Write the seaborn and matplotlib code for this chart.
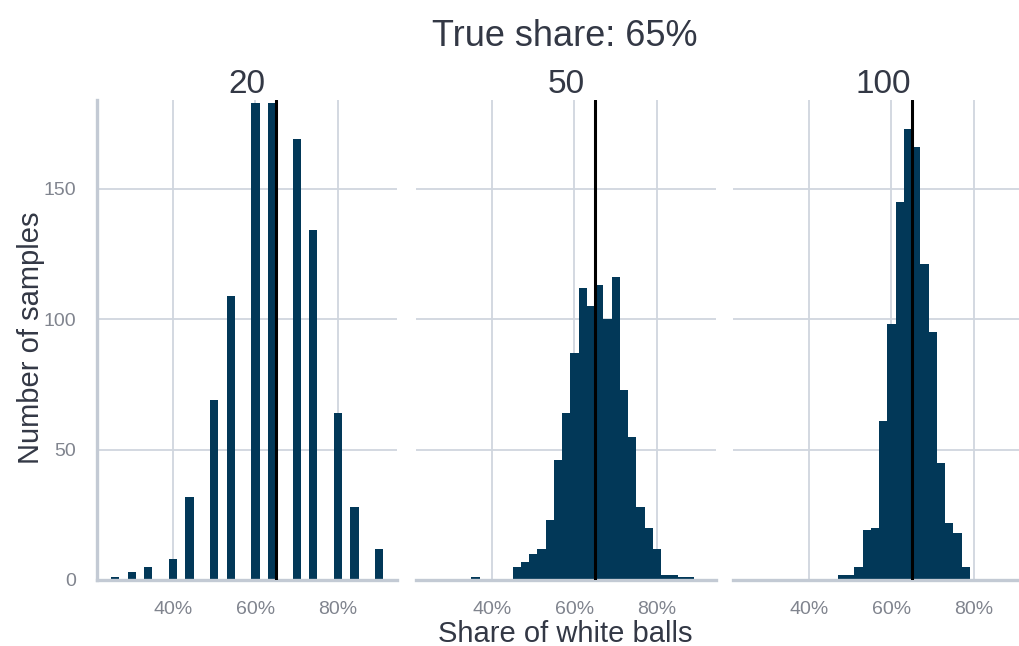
import numpy as np
import pandas as pd
import seaborn as sns
import matplotlib.pyplot as plt
from matplotlib.ticker import PercentFormatter

# Bar positions (share of white balls) and number of samples
share_20 = [0.26, 0.30, 0.34, 0.40, 0.44, 0.50, 0.54, 0.60, 0.64, 0.70, 0.74, 0.80, 0.84, 0.90]
count_20 = [1, 3, 5, 8, 32, 69, 109, 183, 183, 169, 134, 64, 28, 12]

share_50 = [0.36, 0.46, 0.48, 0.50, 0.52, 0.54, 0.56, 0.58, 0.60, 0.62, 0.64, 0.66,
            0.68, 0.70, 0.72, 0.74, 0.76, 0.78, 0.80, 0.82, 0.84, 0.86, 0.88]
count_50 = [1, 5, 7, 10, 12, 23, 46, 64, 87, 112, 105, 113,
            100, 116, 73, 55, 28, 20, 12, 2, 2, 1, 1]

share_100 = [0.48, 0.50, 0.52, 0.54, 0.56, 0.58, 0.60, 0.62, 0.64, 0.66, 0.68, 0.70,
             0.72, 0.74, 0.76, 0.78]
count_100 = [2, 2, 5, 19, 20, 61, 98, 145, 173, 166, 121, 95, 45, 22, 18, 5]

sample_sizes = ["20", "50", "100"]
true_share = 0.65

BAR = "#023858"
GRID = "#d0d6de"
AXIS = "#c3cad4"
TEXT = "#333845"
TICK = "#80848e"


def build_data():
    frames = []
    for size, shares, counts in zip(sample_sizes,
                                    [share_20, share_50, share_100],
                                    [count_20, count_50, count_100]):
        frames.append(pd.DataFrame({"size": size, "share": shares, "count": counts}))
    return pd.concat(frames, ignore_index=True)


def main():
    df = build_data()

    sns.set_theme(style="white")
    plt.rcParams["font.family"] = ["Liberation Sans", "DejaVu Sans"]

    W, H = 1019, 646
    fig = plt.figure(figsize=(W / 100, H / 100), dpi=100)

    # panel pixel boxes (left edges); top and bottom are shared
    lefts = [97, 416, 733]
    width = 300
    top, bottom = 100, 580

    for i, size in enumerate(sample_sizes):
        ax = fig.add_axes([lefts[i] / W, (H - bottom) / H, width / W, (bottom - top) / H])
        sub = df[df["size"] == size]
        # 2% bins centred on even percentages
        sns.histplot(data=sub, x="share", weights="count", binwidth=0.02,
                     binrange=(0.21, 0.93), ax=ax, color=BAR, alpha=1,
                     linewidth=0, zorder=2)
        ax.axvline(true_share, color="black", lw=2.2, zorder=3)

        ax.set_xlim(0.216, 0.943)
        ax.set_ylim(0, 184)
        ax.set_xticks([0.4, 0.6, 0.8])
        ax.set_yticks([0, 50, 100, 150])
        ax.xaxis.set_major_formatter(PercentFormatter(1, decimals=0))
        ax.grid(True, color=GRID, lw=1.3, zorder=0)
        ax.set_axisbelow(True)
        ax.tick_params(length=0, labelsize=14, labelcolor=TICK, pad=15)
        ax.set_xlabel("")
        ax.set_ylabel("")

        for s in ["top", "right", "left"]:
            ax.spines[s].set_visible(False)
        ax.spines["bottom"].set_color(AXIS)
        ax.spines["bottom"].set_linewidth(2.4)
        if i == 0:
            ax.spines["left"].set_visible(True)
            ax.spines["left"].set_color(AXIS)
            ax.spines["left"].set_linewidth(2.4)
        else:
            ax.tick_params(labelleft=False)

        ax.set_title(size, fontsize=24, color=TEXT, pad=5)

    fig.text(565 / W, 1 - 37 / H, "True share: 65%", fontsize=26, color=TEXT,
             ha="center", va="center")
    fig.text(565 / W, 1 - 634 / H, "Share of white balls", fontsize=21, color=TEXT,
             ha="center", va="center")
    fig.text(31 / W, 1 - 338 / H, "Number of samples", fontsize=21, color=TEXT,
             ha="center", va="center", rotation=90)

    fig.savefig("out.png", dpi=100)
    plt.close()


if __name__ == "__main__":
    main()
